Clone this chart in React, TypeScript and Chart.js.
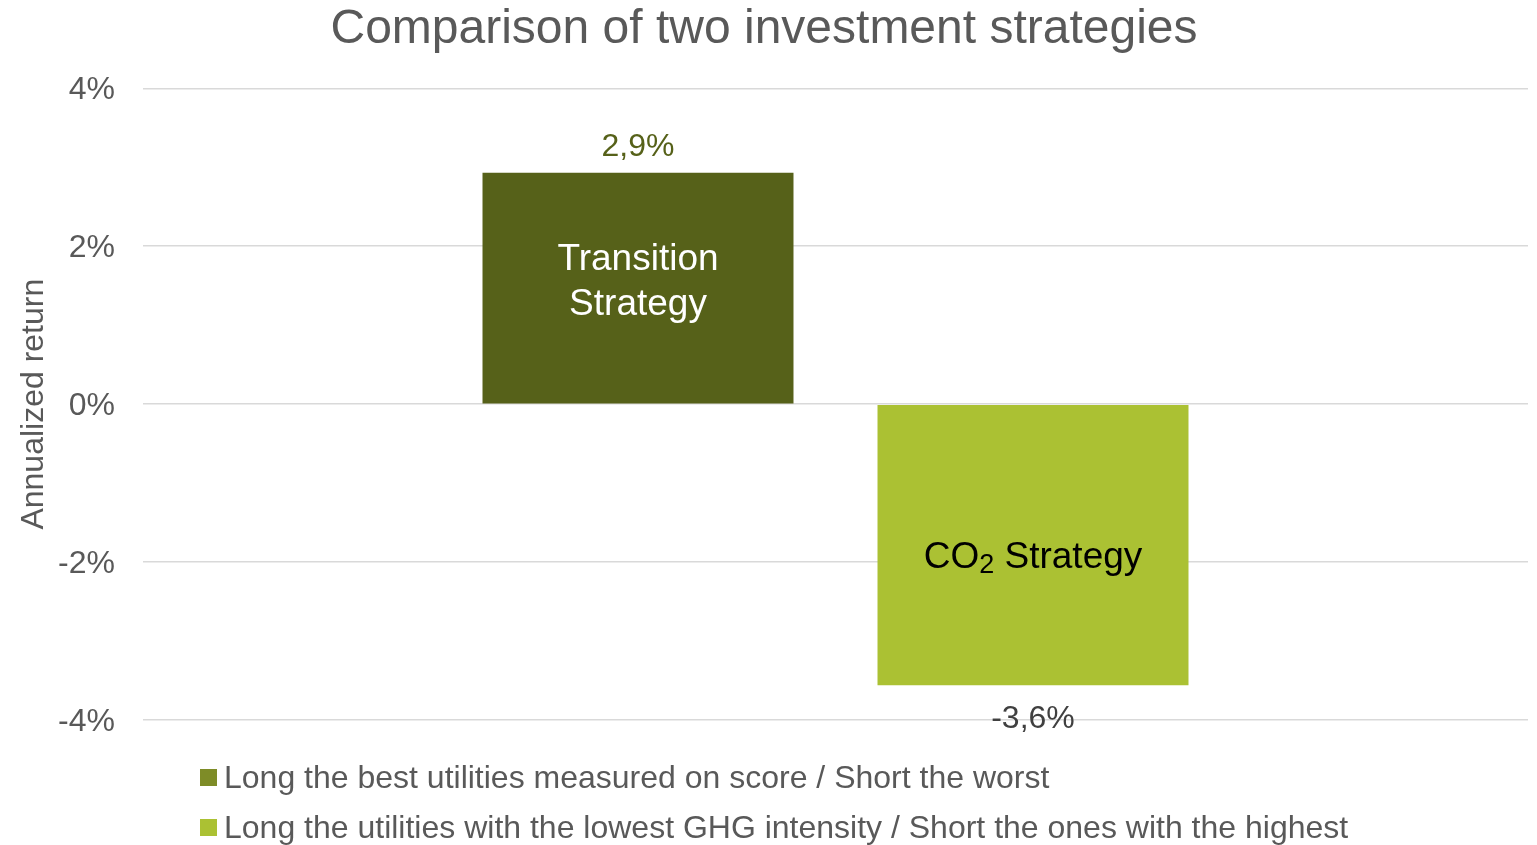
import React, { useEffect, useRef } from 'react';
import { Chart, registerables } from 'chart.js';

Chart.register(...registerables);

const FONT = "'Liberation Sans', Arial, sans-serif";

const chartTitle = 'Comparison of two investment strategies';
const yAxisTitle = 'Annualized return';
const categories = [''];
const seriesNames = [
  'Long the best utilities measured on score / Short the worst',
  'Long the utilities with the lowest GHG intensity / Short the ones with the highest',
];
const seriesValues = [2.93, -3.56];
const barInnerLabels = [['Transition', 'Strategy'], ['CO₂ Strategy']];
const barColors = ['#566119', '#ABC133'];
const legendColors = ['#7E8C27', '#ABC133'];
const innerLabelColors = ['#FFFFFF', '#000000'];
const valueLabelColors = ['#566119', '#404040'];
const yMin = -4;
const yMax = 4;
const yStep = 2;

const fmtValue = (v: number) => v.toFixed(1).replace('.', ',') + '%';

const drawWithSubscript = (ctx: CanvasRenderingContext2D, text: string, cx: number, cy: number, size: number) => {
  const parts = text.split('₂');
  if (parts.length === 1) {
    ctx.textAlign = 'center';
    ctx.fillText(text, cx, cy);
    return;
  }
  const mainFont = `${size}px ${FONT}`;
  const subFont = `${Math.round(size * 0.73)}px ${FONT}`;
  ctx.font = mainFont;
  const w1 = ctx.measureText(parts[0]).width;
  const w3 = ctx.measureText(parts[1]).width;
  ctx.font = subFont;
  const w2 = ctx.measureText('2').width;
  const total = w1 + w2 + w3;
  let x = cx - total / 2;
  ctx.textAlign = 'left';
  ctx.font = mainFont;
  ctx.fillText(parts[0], x, cy);
  x += w1;
  ctx.font = subFont;
  ctx.fillText('2', x, cy + size * 0.22);
  x += w2;
  ctx.font = mainFont;
  ctx.fillText(parts[1], x, cy);
};

const labelsPlugin = {
  id: 'barLabels',
  afterDatasetsDraw(chart: any) {
    const ctx: CanvasRenderingContext2D = chart.ctx;
    ctx.save();
    chart.data.datasets.forEach((ds: any, i: number) => {
      const meta = chart.getDatasetMeta(i);
      meta.data.forEach((bar: any, j: number) => {
        const v = ds.data[j] as number;
        const { x, y, base } = bar.getProps(['x', 'y', 'base'], true);
        ctx.textBaseline = 'middle';
        ctx.textAlign = 'center';
        ctx.font = `32px ${FONT}`;
        ctx.fillStyle = valueLabelColors[i];
        ctx.fillText(fmtValue(v), x, v >= 0 ? y - 25.5 : y + 34);

        const lines = barInnerLabels[i];
        const mid = (y + base) / 2 + (v >= 0 ? -5.5 : 12.5);
        const lh = 45;
        ctx.fillStyle = innerLabelColors[i];
        ctx.font = `37px ${FONT}`;
        lines.forEach((ln, k) => {
          const ly = mid + (k - (lines.length - 1) / 2) * lh;
          drawWithSubscript(ctx, ln, x, ly, 37);
        });
      });
    });
    ctx.restore();
  },
};

const legendPlugin = {
  id: 'customLegend',
  afterDraw(chart: any) {
    const ctx: CanvasRenderingContext2D = chart.ctx;
    ctx.save();
    ctx.font = `32px ${FONT}`;
    ctx.textBaseline = 'alphabetic';
    ctx.textAlign = 'left';
    seriesNames.forEach((name, i) => {
      const baseY = 788 + i * 50;
      ctx.fillStyle = legendColors[i];
      ctx.fillRect(200, baseY - 19, 17, 17);
      ctx.fillStyle = '#595959';
      ctx.fillText(name, 224, baseY);
    });
    ctx.restore();
  },
};

export default function App() {
  const ref = useRef<HTMLCanvasElement>(null);
  useEffect(() => {
    if (!ref.current) return;
    Chart.defaults.font.family = FONT;
    const chart = new Chart(ref.current, {
      type: 'bar',
      data: {
        labels: categories,
        datasets: seriesNames.map((name, i) => ({
          label: name,
          data: [seriesValues[i]],
          backgroundColor: barColors[i],
          borderWidth: 0,
          categoryPercentage: 0.5704,
          barPercentage: 0.7873,
        })),
      },
      options: {
        responsive: false,
        animation: false,
        layout: { padding: { left: 0, right: 9, top: 0, bottom: 125 } },
        plugins: {
          legend: { display: false },
          tooltip: { enabled: false },
          title: {
            display: true,
            text: chartTitle,
            color: '#595959',
            font: { size: 48, family: FONT, weight: 'normal', lineHeight: 1.1 },
            padding: { top: 3, bottom: 32.5 },
          },
        },
        scales: {
          x: { display: false, grid: { display: false } },
          y: {
            min: yMin,
            max: yMax,
            ticks: {
              stepSize: yStep,
              callback: (v: any) => `${v}%`,
              font: { size: 32, family: FONT },
              color: '#595959',
              padding: 28,
              labelOffset: 2,
            },
            grid: { color: '#D9D9D9', lineWidth: 1.5, drawTicks: false },
            border: { display: false },
            title: {
              display: true,
              text: yAxisTitle,
              color: '#595959',
              font: { size: 32, family: FONT },
              padding: { top: 15, bottom: 0 },
            },
            afterFit: (s: any) => {
              s.width = 143;
            },
          },
        },
      },
      plugins: [labelsPlugin, legendPlugin],
    } as any);
    return () => chart.destroy();
  }, []);
  return (
    <div style={{ position: 'fixed', left: 0, top: 0, width: 1537, height: 845, background: '#fff' }}>
      <canvas ref={ref} width={1537} height={845} style={{ display: 'block' }} />
    </div>
  );
}
